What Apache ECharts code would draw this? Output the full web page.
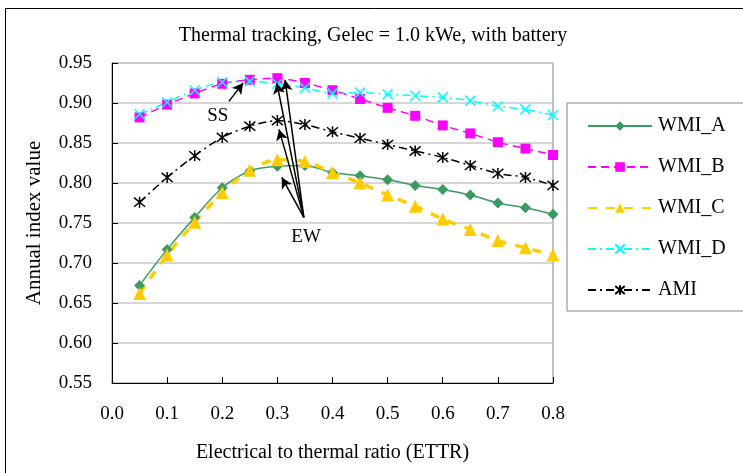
<!doctype html>
<html lang="en">
<head>
    <meta charset="UTF-8">
    <script src="https://cdn.jsdelivr.net/npm/echarts@6/dist/echarts.min.js"></script>
    <title>Thermal tracking</title>
    <style>
        html, body { margin: 0; padding: 0; background: #fff; }
    </style>
</head>
<body>
<div id="main" style="width: 743px;height:473px;"></div>
<script>
    // ETTR values on the x axis
    var ettr = [0.05, 0.1, 0.15, 0.2, 0.25, 0.3, 0.35, 0.4, 0.45, 0.5, 0.55, 0.6, 0.65, 0.7, 0.75, 0.8];
    var wmiA = [0.672, 0.717, 0.757, 0.794, 0.815, 0.821, 0.822, 0.813, 0.809, 0.804, 0.797, 0.792, 0.785, 0.775, 0.769, 0.761];
    var wmiB = [0.882, 0.898, 0.912, 0.924, 0.929, 0.931, 0.925, 0.916, 0.905, 0.894, 0.884, 0.872, 0.862, 0.851, 0.843, 0.835];
    var wmiC = [0.662, 0.710, 0.751, 0.788, 0.816, 0.829, 0.827, 0.813, 0.800, 0.785, 0.771, 0.755, 0.742, 0.728, 0.719, 0.710];
    var wmiD = [0.886, 0.901, 0.916, 0.926, 0.927, 0.924, 0.919, 0.912, 0.913, 0.911, 0.909, 0.907, 0.903, 0.896, 0.892, 0.885];
    var ami  = [0.776, 0.807, 0.834, 0.857, 0.871, 0.878, 0.873, 0.864, 0.856, 0.848, 0.840, 0.832, 0.822, 0.812, 0.807, 0.797];
    var seriesNames = ['WMI_A', 'WMI_B', 'WMI_C', 'WMI_D', 'AMI'];

    // annotation arrows (data coords): [from, to]
    var ssArrows = [[[0.212, 0.902], [0.238, 0.925]]];
    var ewArrows = [
        [[0.348, 0.757], [0.308, 0.807]],
        [[0.348, 0.757], [0.303, 0.867]],
        [[0.348, 0.757], [0.299, 0.925]],
        [[0.348, 0.757], [0.314, 0.929]]
    ];
    var labels = [['SS', 0.192, 0.884], ['EW', 0.352, 0.733]];

    var font = 'Liberation Serif';

    function pairs(ys) {
        var out = [];
        for (var i = 0; i < ettr.length; i++) {
            out.push([ettr[i], ys[i]]);
        }
        return out;
    }

    var crossPath = 'path://M0,0L10,10M10,0L0,10';
    var starPath = 'path://M0,0L10,10M10,0L0,10M5,-1L5,11';

    var arrowData = [];
    ssArrows.concat(ewArrows).forEach(function (a) {
        arrowData.push([{coord: a[0]}, {coord: a[1]}]);
    });
    var textData = labels.map(function (l) {
        return {coord: [l[1], l[2]], value: l[0]};
    });

    var myChart = echarts.init(document.getElementById('main'));
    var option = {
        animation: false,
        textStyle: {fontFamily: font, color: '#000'},
        graphic: [{
            type: 'rect',
            shape: {x: 5.5, y: 8.5, width: 800, height: 500},
            style: {fill: 'none', stroke: '#000', lineWidth: 1}
        }],
        title: {
            text: 'Thermal tracking, Gelec = 1.0 kWe, with battery',
            left: 368,
            textAlign: 'center',
            top: 21,
            textStyle: {fontFamily: font, fontSize: 20, fontWeight: 'normal', color: '#000'}
        },
        legend: {
            data: seriesNames,
            orient: 'vertical',
            left: 567,
            top: 103,
            width: 175,
            padding: [13, 20, 11, 20],
            itemWidth: 64,
            itemHeight: 12,
            itemGap: 21,
            borderColor: '#808080',
            borderWidth: 1,
            textStyle: {fontFamily: font, fontSize: 20, color: '#000', width: 100, padding: [0, 0, 0, 1]}
        },
        grid: {
            left: 112, right: 190, top: 63, bottom: 90,
            show: true, borderColor: '#808080', borderWidth: 1
        },
        xAxis: {
            type: 'value',
            min: 0, max: 0.8, interval: 0.1,
            name: 'Electrical to thermal ratio (ETTR)',
            nameLocation: 'middle',
            nameGap: 60,
            nameTextStyle: {fontFamily: font, fontSize: 20, color: '#000'},
            axisLine: {lineStyle: {color: '#000', width: 1}},
            axisTick: {inside: true, length: 6, lineStyle: {color: '#000'}},
            axisLabel: {
                fontFamily: font, fontSize: 19, color: '#000', margin: 22,
                formatter: function (v) { return v.toFixed(1); }
            },
            splitLine: {show: false}
        },
        yAxis: {
            type: 'value',
            min: 0.55, max: 0.95, interval: 0.05,
            name: 'Annual index value',
            nameLocation: 'middle',
            nameGap: 67,
            nameTextStyle: {fontFamily: font, fontSize: 21, color: '#000'},
            axisLine: {show: true, lineStyle: {color: '#000', width: 1}},
            axisTick: {show: true, inside: true, length: 6, lineStyle: {color: '#000'}},
            axisLabel: {
                fontFamily: font, fontSize: 19, color: '#000', margin: 20,
                formatter: function (v) { return v.toFixed(2); }
            },
            splitLine: {lineStyle: {color: '#c8c8c8', width: 1.5}}
        },
        series: [{
            name: 'WMI_A',
            type: 'line',
            data: pairs(wmiA),
            smooth: 0.3,
            symbol: 'diamond',
            symbolSize: 11,
            itemStyle: {color: '#3A9A62'},
            lineStyle: {color: '#3A9A62', width: 1.5},
            z: 3,
            markLine: {
                silent: true,
                symbol: ['none', 'arrow'],
                symbolSize: [9, 11],
                lineStyle: {color: '#000', type: 'solid', width: 1.5},
                label: {show: false},
                data: arrowData
            },
            markPoint: {
                silent: true,
                symbol: 'circle',
                symbolSize: 1,
                itemStyle: {color: 'rgba(0,0,0,0)'},
                label: {
                    show: true, position: 'inside',
                    fontFamily: font, fontSize: 19, color: '#000',
                    formatter: function (p) { return p.value; }
                },
                data: textData
            }
        }, {
            name: 'WMI_B',
            type: 'line',
            data: pairs(wmiB),
            smooth: 0.3,
            symbol: 'rect',
            symbolSize: 10,
            itemStyle: {color: '#FF00FF'},
            lineStyle: {color: '#FF00FF', width: 1.5, type: [8, 5]}
        }, {
            name: 'WMI_C',
            type: 'line',
            data: pairs(wmiC),
            smooth: 0.3,
            symbol: 'triangle',
            symbolSize: 13,
            itemStyle: {color: '#FFCC00'},
            lineStyle: {color: '#FFCC00', width: 3.5, type: [9, 9]}
        }, {
            name: 'WMI_D',
            type: 'line',
            data: pairs(wmiD),
            smooth: 0.3,
            symbol: crossPath,
            symbolSize: 10,
            itemStyle: {color: '#00FFFF', borderColor: '#00FFFF', borderWidth: 1.5},
            lineStyle: {color: '#00FFFF', width: 1.5, type: [8, 4, 2, 4]}
        }, {
            name: 'AMI',
            type: 'line',
            data: pairs(ami),
            smooth: 0.3,
            symbol: starPath,
            symbolSize: 11,
            itemStyle: {color: '#000', borderColor: '#000', borderWidth: 1.5},
            lineStyle: {color: '#000', width: 1.5, type: [8, 4, 2, 4]}
        }]
    };
    myChart.setOption(option);
</script>
</body>
</html>
